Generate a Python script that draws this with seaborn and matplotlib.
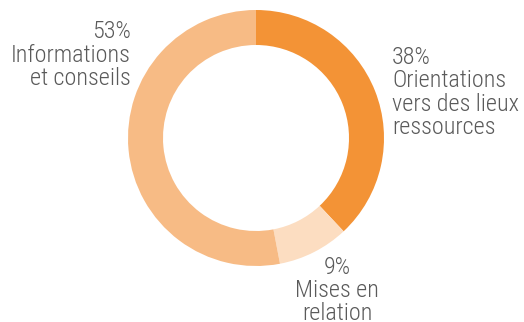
import matplotlib
matplotlib.use("Agg")
import matplotlib.pyplot as plt
import seaborn as sns

# Share of requests by type of answer given
categories = ["Orientations\nvers des lieux\nressources", "Mises en\nrelation", "Informations\net conseils"]
shares = [38, 9, 53]
colors = ["#F39336", "#FCDDC1", "#F7BB85"]

sns.set_theme(style="white")
plt.rcParams["font.family"] = ["Roboto Condensed", "DejaVu Sans"]

W, H = 524, 322
fig = plt.figure(figsize=(W / 100, H / 100), dpi=100)
cx, cy, r = 256, 138, 128
ax = fig.add_axes([(cx - r) / W, (H - cy - r) / H, 2 * r / W, 2 * r / H])

ax.pie(shares, colors=colors, startangle=90, counterclock=False, radius=1,
       wedgeprops=dict(width=35 / 128, linewidth=0))
ax.set_xlim(-1, 1)
ax.set_ylim(-1, 1)
ax.set_aspect("equal")
ax.axis("off")

def px(x, y):
    return (x - cx) / r, (cy - y) / r

text_kw = dict(color="#5a5a5a", fontsize=17.4, linespacing=1.02,
               fontstretch="condensed", fontweight="light")

x, y = px(131, 55)
ax.text(x, y, f"{shares[2]}%\n{categories[2]}", ha="right", va="center",
        multialignment="right", **text_kw)
x, y = px(392, 92.5)
ax.text(x, y, f"{shares[0]}%\n{categories[0]}", ha="left", va="center",
        multialignment="left", **text_kw)
x, y = px(337, 290.5)
ax.text(x, y, f"{shares[1]}%\n{categories[1]}", ha="center", va="center",
        multialignment="center", **text_kw)

fig.savefig("out.png", dpi=100)
